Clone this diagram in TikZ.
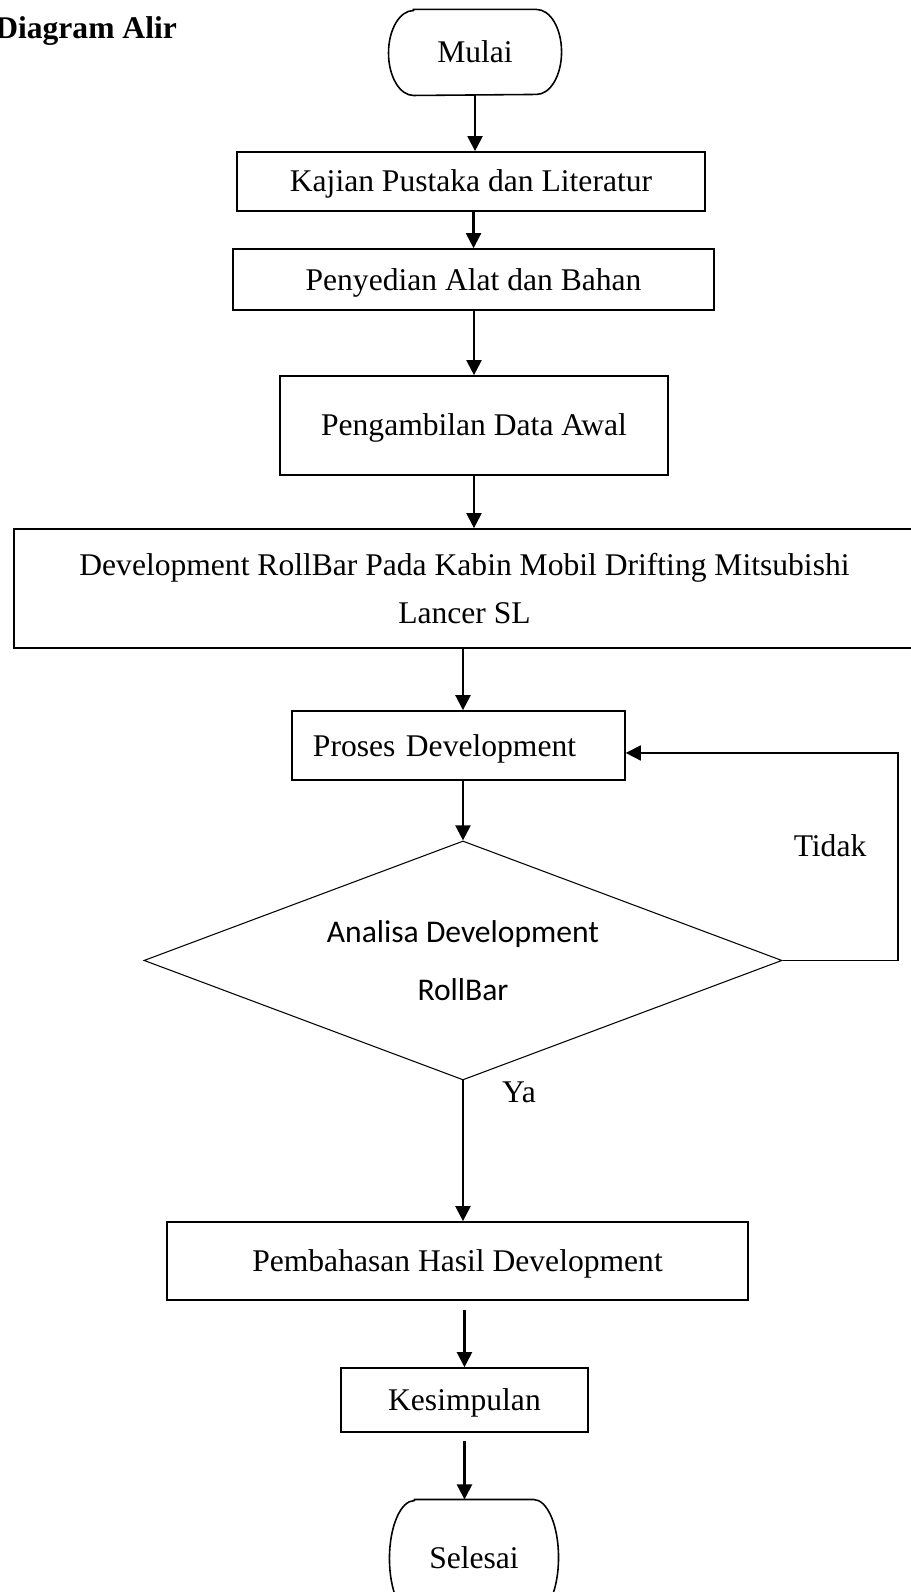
\documentclass[tikz,border=0pt]{standalone}
\usepackage{fontspec}
\setmainfont{Liberation Serif}
\newfontfamily\calibri{Carlito}
\usetikzlibrary{positioning}
\usetikzlibrary{shapes.geometric, shapes.misc}
\usetikzlibrary{arrows.meta}

\begin{document}
\begin{tikzpicture}[
  base/.style={draw,line width=0.6pt,rectangle,inner sep=0pt,font=\fontsize{12}{14.4}\selectfont},
  proc/.style={base,text height=10pt,text depth=2pt},
  term/.style={rectangle,inner sep=0pt,text height=10pt,text depth=2pt,font=\fontsize{12}{14.4}\selectfont},
  decide/.style={draw,line width=0.4pt,diamond,aspect=2.67,inner sep=0pt,align=center,font=\calibri\fontsize{12}{22}\selectfont},
  arr/.style={-{Triangle[length=5.7pt,width=5.7pt]},line width=0.8pt},
  lbl/.style={font=\fontsize{12}{14.4}\selectfont}
]
\useasboundingbox (0,0) rectangle (12.166,21.261);

\node[font=\bfseries\fontsize{12}{14.4}\selectfont,anchor=base west,inner sep=0pt] (judul) at (-0.070,20.740) {Diagram Alir};

\node[term,minimum width=2.297cm,minimum height=1.135cm] (mulai) at (6.344,20.560) {Mulai};
\draw[line width=0.6pt] ([xshift=0.334cm]mulai.north west) -- ([xshift=-0.334cm]mulai.north east)
  arc[start angle=90,end angle=-90,x radius=0.334cm,y radius=0.5675cm] -- ([xshift=0.334cm]mulai.south west)
  arc[start angle=270,end angle=90,x radius=0.334cm,y radius=0.5675cm] -- cycle;
\node[proc,minimum width=6.250cm,minimum height=0.788cm] (kajian) at (6.290,18.838) {Kajian Pustaka dan Literatur};
\node[proc,minimum width=6.424cm,minimum height=0.815cm] (penyedian) at (6.324,17.528) {Penyedian Alat dan Bahan};
\node[proc,minimum width=5.182cm,minimum height=1.322cm] (ambil) at (6.330,15.579) {Pengambilan Data Awal};
\node[base,minimum width=12.033cm,minimum height=1.589cm,align=center,font=\fontsize{12}{18}\selectfont] (dev) at (6.203,13.402) {Development RollBar Pada Kabin Mobil Drifting Mitsubishi\\Lancer SL};
\node[proc,minimum width=4.447cm,minimum height=0.921cm,text width=3.887cm,inner xsep=0.28cm,align=left] (proses) at (6.123,11.305) {Proses Development};
\node[decide,minimum width=8.521cm,minimum height=3.192cm] (dia) at (6.183,8.434) {Analisa Development\\RollBar};
\node[proc,minimum width=7.759cm,minimum height=1.042cm] (bahas) at (6.110,4.421) {Pembahasan Hasil Development};
\node[proc,minimum width=3.299cm,minimum height=0.855cm] (kes) at (6.203,2.564) {Kesimpulan};
\node[term,minimum width=2.244cm,minimum height=1.549cm] (selesai) at (6.330,0.454) {Selesai};
\draw[line width=0.6pt] ([xshift=0.334cm]selesai.north west) -- ([xshift=-0.334cm]selesai.north east)
  arc[start angle=90,end angle=-90,x radius=0.334cm,y radius=0.7745cm] -- ([xshift=0.334cm]selesai.south west)
  arc[start angle=270,end angle=90,x radius=0.334cm,y radius=0.7745cm] -- cycle;

\draw[arr] (mulai.south) -- (mulai.south |- kajian.north);
\draw[arr] (penyedian.north |- kajian.south) -- (penyedian.north);
\draw[arr] (ambil.north |- penyedian.south) -- (ambil.north);
\draw[arr] (ambil.south) -- (ambil.south |- dev.north);
\draw[arr] (dia.north |- dev.south) -- (dia.north |- proses.north);
\draw[arr] (dia.north |- proses.south) -- (dia.north);
\draw[arr] (dia.south) -- (dia.south |- bahas.north);
\draw[arr,shorten <=3.5pt] (kes.north |- bahas.south) -- (kes.north);
\draw[arr,shorten <=3pt] (kes.south) -- (kes.south |- selesai.north);

% jalur kembali jika tidak
\coordinate (balik) at (11.993,11.205);
\draw[arr,line width=0.6pt] (dia.east) -- (dia.east -| balik) -- (balik) -- (proses.east |- balik);

\node[lbl] (tidak) at (11.085,9.963) {Tidak};
\node[lbl] (ya) at (6.931,6.678) {Ya};

\end{tikzpicture}
\end{document}
